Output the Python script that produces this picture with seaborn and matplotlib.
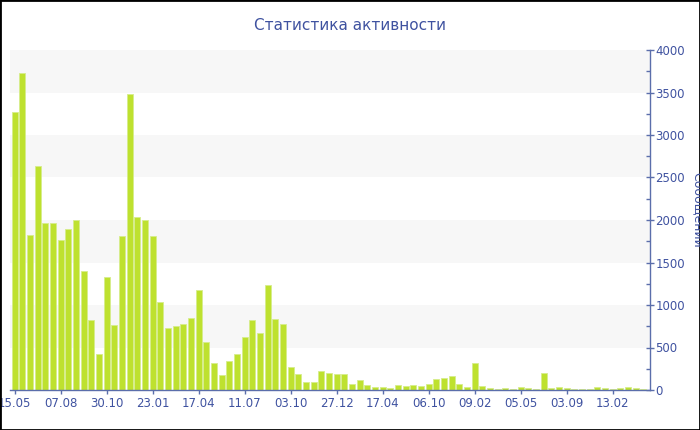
import matplotlib
matplotlib.use("Agg")
import matplotlib.pyplot as plt
import seaborn as sns
from matplotlib.patches import Rectangle
from matplotlib.ticker import MultipleLocator

# Messages per two-week period
messages = [
    3270, 3735, 1825, 2635, 1960, 1965, 1765, 1900, 2000, 1400,
    820, 420, 1325, 765, 1815, 3485, 2030, 2000, 1810, 1040,
    735, 750, 780, 845, 1175, 560, 320, 175, 340, 420,
    620, 825, 675, 1240, 840, 775, 270, 185, 100, 92,
    227, 205, 185, 188, 65, 118, 59, 41, 31, 25,
    57, 47, 59, 43, 67, 127, 147, 168, 71, 41,
    314, 47, 23, 16, 19, 12, 31, 20, 16, 196,
    23, 31, 23, 12, 12, 12, 31, 20, 16, 23,
    31, 23, 16,
]
tick_labels = ["15.05", "07.08", "30.10", "23.01", "17.04", "11.07", "03.10",
               "27.12", "17.04", "06.10", "09.02", "05.05", "03.09", "13.02"]
periods = list(range(len(messages)))

title = "Статистика активности"
y_label = "Сообщений"

text_color = "#3f52a0"
axis_color = "#5b6eab"
bar_color = "#bee12f"

sns.set_style("white")
plt.rcParams["font.family"] = ["DejaVu Sans"]

fig = plt.figure(figsize=(7, 4.3), dpi=100)
ax = fig.add_axes([10 / 700, 40 / 430, 640 / 700, 340 / 430])

# alternating light bands every 500
for lo in range(500, 4000, 1000):
    ax.axhspan(lo, lo + 500, color="#f7f7f7", zorder=0, lw=0)

sns.barplot(x=periods, y=messages, color=bar_color, saturation=1, width=0.78,
            edgecolor="#d6ed8c", linewidth=0.6, ax=ax, zorder=2)

ax.set_xlim(-0.6, 82.85)
ax.set_ylim(0, 4000)
ax.set_xticks(range(0, len(messages), 6))
ax.set_xticklabels(tick_labels)
ax.set_xlabel("")
ax.set_ylabel("")

ax.yaxis.tick_right()
ax.yaxis.set_major_locator(MultipleLocator(500))
ax.yaxis.set_minor_locator(MultipleLocator(250))

for side in ["top", "left"]:
    ax.spines[side].set_visible(False)
for side in ["bottom", "right"]:
    ax.spines[side].set_color(axis_color)
    ax.spines[side].set_linewidth(1)

ax.tick_params(axis="x", colors=axis_color, labelcolor=text_color, labelsize=8.5,
               direction="out", length=3, width=1, pad=2, bottom=True)
ax.tick_params(axis="y", which="major", colors=axis_color, labelcolor=text_color,
               labelsize=8.5, direction="inout", length=6, width=1, pad=1,
               right=True, left=False)
ax.tick_params(axis="y", which="minor", colors=axis_color, direction="in",
               length=3, width=1, right=True, left=False)

fig.text(0.5, 1 - 25 / 430, title, ha="center", va="center",
         fontsize=11, color=text_color)
fig.text(697 / 700, 0.5116, y_label, rotation=-90, ha="center", va="center",
         fontsize=9, color=text_color)

# black frame around the whole picture
fig.patches.append(Rectangle((0, 0), 1, 1, transform=fig.transFigure,
                             fill=False, edgecolor="black", linewidth=2))

fig.savefig("out.png", dpi=100)
